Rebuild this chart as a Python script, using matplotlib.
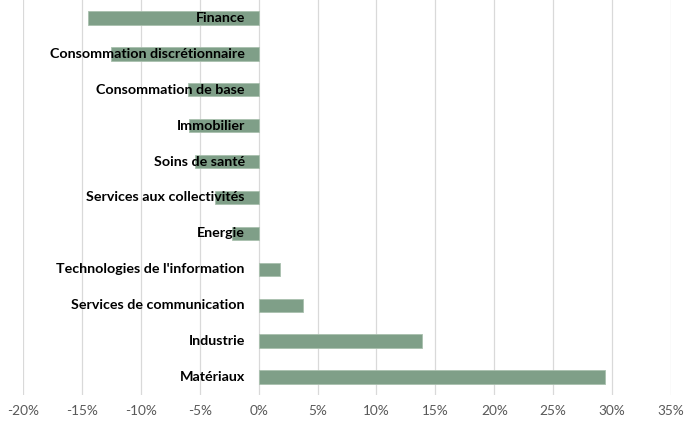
import numpy as np
import matplotlib.pyplot as plt
from matplotlib.ticker import FuncFormatter

sectors = [
    "Finance",
    "Consommation discrétionnaire",
    "Consommation de base",
    "Immobilier",
    "Soins de santé",
    "Services aux collectivités",
    "Energie",
    "Technologies de l'information",
    "Services de communication",
    "Industrie",
    "Matériaux",
]
returns = [-14.5, -12.5, -6.0, -5.9, -5.4, -3.7, -2.3, 1.8, 3.8, 13.9, 29.4]
xticks = [-20, -15, -10, -5, 0, 5, 10, 15, 20, 25, 30, 35]

fig = plt.figure(figsize=(6.92, 4.25), dpi=100)
ax = fig.add_axes([0.0332, 0.0706, 0.9366, 0.9294])

y = np.arange(len(sectors))
ax.barh(y, returns, height=0.37, color="#7f9f88", edgecolor="#a9c0ae",
        linewidth=0.6, zorder=2)

for i, name in enumerate(sectors):
    ax.annotate(name, xy=(0, i), xytext=(-10, 0), textcoords="offset points",
                ha="right", va="center", fontsize=10.3, fontweight="bold",
                family="Lato", color="#000000", zorder=3)

ax.set_xlim(-20, 35)
ax.set_ylim(len(sectors) - 0.5, -0.5)
ax.set_xticks(xticks)
ax.xaxis.set_major_formatter(FuncFormatter(lambda v, p: f"{v:.0f}%"))
ax.set_yticks([])
ax.grid(axis="x", color="#d9d9d9", linewidth=0.9, zorder=0)
for s in ax.spines.values():
    s.set_visible(False)
ax.tick_params(axis="x", length=0, labelsize=9.8, labelcolor="#595959", pad=7)
for lab in ax.get_xticklabels():
    lab.set_family("Lato")

fig.savefig("out.png", dpi=100)
